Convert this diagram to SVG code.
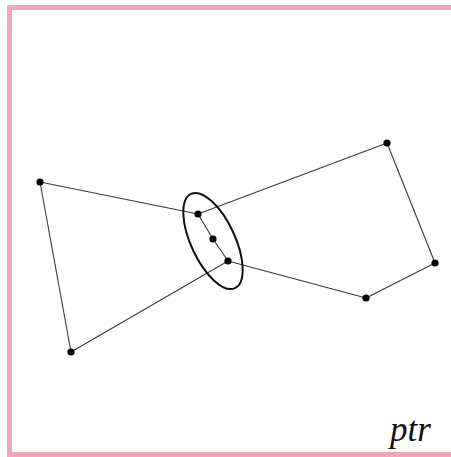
<svg xmlns="http://www.w3.org/2000/svg" width="451" height="457" viewBox="0 0 451 457">
<style>
.edge{stroke:#3a3a3a;stroke-width:1.1;fill:none}
.dot{fill:#000}
.sig{font-family:"Liberation Serif",serif;font-style:italic;font-size:35px;fill:#111}
</style>
<rect x="0" y="0" width="451" height="457" fill="#fff"/>
<rect x="9.5" y="7.5" width="460" height="447" fill="#fff" stroke="#f8a3bb" stroke-width="5"/>
<g id="connectors">
<line class="edge" x1="40" y1="182" x2="198" y2="214"/>
<line class="edge" x1="40" y1="182" x2="71" y2="352"/>
<line class="edge" x1="71" y1="352" x2="228" y2="261"/>
<line class="edge" x1="198" y1="214" x2="213" y2="239"/>
<line class="edge" x1="213" y1="239" x2="228" y2="261"/>
<line class="edge" x1="198" y1="214" x2="387" y2="143"/>
<line class="edge" x1="387" y1="143" x2="435" y2="263"/>
<line class="edge" x1="435" y1="263" x2="366" y2="298"/>
<line class="edge" x1="366" y1="298" x2="228" y2="261"/>
</g>
<g id="ellipse">
<ellipse cx="213" cy="241" rx="22" ry="52" transform="rotate(-25 213 241)" fill="none" stroke="#111" stroke-width="2"/>
</g>
<g id="nA"><circle class="dot" cx="40" cy="182" r="3.6"/></g>
<g id="nB"><circle class="dot" cx="71" cy="352" r="3.6"/></g>
<g id="nC"><circle class="dot" cx="198" cy="214" r="3.6"/></g>
<g id="nD"><circle class="dot" cx="213" cy="239" r="3.6"/></g>
<g id="nE"><circle class="dot" cx="228" cy="261" r="3.6"/></g>
<g id="nF"><circle class="dot" cx="387" cy="143" r="3.6"/></g>
<g id="nG"><circle class="dot" cx="435" cy="263" r="3.6"/></g>
<g id="nH"><circle class="dot" cx="366" cy="298" r="3.6"/></g>
<text class="sig" x="390" y="441">ptr</text>
</svg>
